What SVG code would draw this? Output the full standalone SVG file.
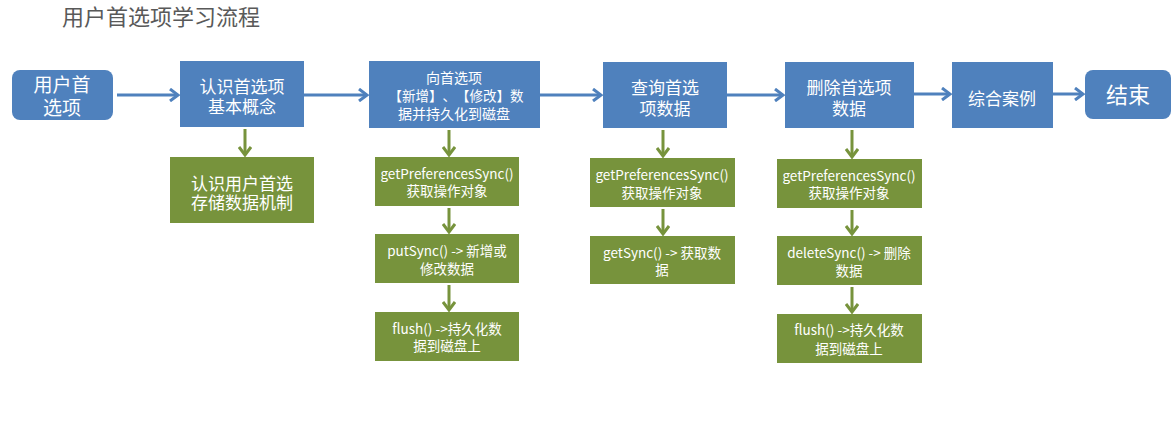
<svg xmlns="http://www.w3.org/2000/svg" width="1176" height="446" viewBox="0 0 1176 446">
<style>
text{font-family:"Noto Sans CJK SC","Liberation Sans",sans-serif;fill:#fff;text-anchor:middle;dominant-baseline:central;text-spacing-trim:space-all}
.b{fill:#4F81BD}
.g{fill:#77933C}
.t{fill:#595959;text-anchor:start;font-size:22px}
.s17{font-size:17px}
.s14{font-size:14px}
.s13{font-size:13.5px}
.cb{stroke:#4F81BD;stroke-width:3;fill:none}
.cg{stroke:#77933C;stroke-width:3;fill:none}
</style>
<defs>
<marker id="ab" markerUnits="userSpaceOnUse" markerWidth="14" markerHeight="14" refX="12" refY="7" orient="auto">
<path d="M4,1 L12,7 L4,13" fill="none" stroke="#4F81BD" stroke-width="3"/>
</marker>
<marker id="ag" markerUnits="userSpaceOnUse" markerWidth="14" markerHeight="14" refX="12" refY="7" orient="auto">
<path d="M4,1 L12,7 L4,13" fill="none" stroke="#77933C" stroke-width="3"/>
</marker>
</defs>
<text class="t" x="62" y="15">用户首选项学习流程</text>
<g id="connectors">
<line class="cb" x1="117" y1="95" x2="178" y2="95" marker-end="url(#ab)"/>
<line class="cb" x1="304" y1="95" x2="367" y2="95" marker-end="url(#ab)"/>
<line class="cb" x1="540" y1="95" x2="601" y2="95" marker-end="url(#ab)"/>
<line class="cb" x1="727" y1="95" x2="783" y2="95" marker-end="url(#ab)"/>
<line class="cb" x1="914" y1="94" x2="950" y2="94" marker-end="url(#ab)"/>
<line class="cb" x1="1053" y1="94" x2="1083" y2="94" marker-end="url(#ab)"/>
<line class="cg" x1="245" y1="129" x2="245" y2="155" marker-end="url(#ag)"/>
<line class="cg" x1="449" y1="130" x2="449" y2="155" marker-end="url(#ag)"/>
<line class="cg" x1="449" y1="208" x2="449" y2="232" marker-end="url(#ag)"/>
<line class="cg" x1="449" y1="285" x2="449" y2="310" marker-end="url(#ag)"/>
<line class="cg" x1="663" y1="130" x2="663" y2="156" marker-end="url(#ag)"/>
<line class="cg" x1="663" y1="209" x2="663" y2="234" marker-end="url(#ag)"/>
<line class="cg" x1="852" y1="130" x2="852" y2="157" marker-end="url(#ag)"/>
<line class="cg" x1="852" y1="210" x2="852" y2="234" marker-end="url(#ag)"/>
<line class="cg" x1="852" y1="287" x2="852" y2="312" marker-end="url(#ag)"/>
</g>
<g id="start">
<rect class="b" x="12" y="70" width="101" height="50" rx="8"/>
<text font-size="19"><tspan x="62" y="83">用户首</tspan><tspan x="62" y="106">选项</tspan></text>
</g>
<g id="concept">
<rect class="b" x="180" y="61" width="124" height="66"/>
<text class="s17"><tspan x="242" y="85">认识首选项</tspan><tspan x="242" y="105">基本概念</tspan></text>
</g>
<g id="storage">
<rect class="g" x="170" y="157" width="144" height="66"/>
<text class="s17"><tspan x="242" y="182">认识用户首选</tspan><tspan x="242" y="201">存储数据机制</tspan></text>
</g>
<g id="put">
<rect class="b" x="369" y="61" width="171" height="67"/>
<text class="s14"><tspan x="454" y="77">向首选项</tspan><tspan x="456" y="95" font-size="13.5">【新增】、【修改】数</tspan><tspan x="454" y="113">据并持久化到磁盘</tspan></text>
</g>
<g id="put1">
<rect class="g" x="375" y="157" width="144" height="49"/>
<text class="s13"><tspan x="447" y="173">getPreferencesSync()</tspan><tspan x="447" y="190">获取操作对象</tspan></text>
</g>
<g id="put2">
<rect class="g" x="375" y="234" width="144" height="49"/>
<text class="s13"><tspan x="447" y="250">putSync() -&gt; 新增或</tspan><tspan x="447" y="268">修改数据</tspan></text>
</g>
<g id="put3">
<rect class="g" x="375" y="312" width="144" height="49"/>
<text class="s13"><tspan x="447" y="328">flush() -&gt;持久化数</tspan><tspan x="447" y="345">据到磁盘上</tspan></text>
</g>
<g id="query">
<rect class="b" x="603" y="62" width="124" height="66"/>
<text class="s17"><tspan x="665" y="86">查询首选</tspan><tspan x="665" y="107">项数据</tspan></text>
</g>
<g id="query1">
<rect class="g" x="590" y="158" width="145" height="49"/>
<text class="s13"><tspan x="662" y="174">getPreferencesSync()</tspan><tspan x="662" y="192">获取操作对象</tspan></text>
</g>
<g id="query2">
<rect class="g" x="590" y="236" width="145" height="48"/>
<text class="s13"><tspan x="662" y="252">getSync() -&gt; 获取数</tspan><tspan x="662" y="269">据</tspan></text>
</g>
<g id="delete">
<rect class="b" x="785" y="62" width="129" height="66"/>
<text class="s17"><tspan x="849" y="86">删除首选项</tspan><tspan x="849" y="107">数据</tspan></text>
</g>
<g id="delete1">
<rect class="g" x="777" y="159" width="145" height="49"/>
<text class="s13"><tspan x="849" y="175">getPreferencesSync()</tspan><tspan x="849" y="192">获取操作对象</tspan></text>
</g>
<g id="delete2">
<rect class="g" x="777" y="236" width="145" height="49"/>
<text class="s13"><tspan x="849" y="252">deleteSync() -&gt; 删除</tspan><tspan x="849" y="270">数据</tspan></text>
</g>
<g id="delete3">
<rect class="g" x="777" y="314" width="145" height="49"/>
<text class="s13"><tspan x="849" y="329">flush() -&gt;持久化数</tspan><tspan x="849" y="348">据到磁盘上</tspan></text>
</g>
<g id="case">
<rect class="b" x="952" y="62" width="101" height="66"/>
<text class="s17" x="1002" y="97">综合案例</text>
</g>
<g id="end">
<rect class="b" x="1085" y="70" width="86" height="49" rx="8"/>
<text x="1128" y="93" font-size="22">结束</text>
</g>
</svg>
